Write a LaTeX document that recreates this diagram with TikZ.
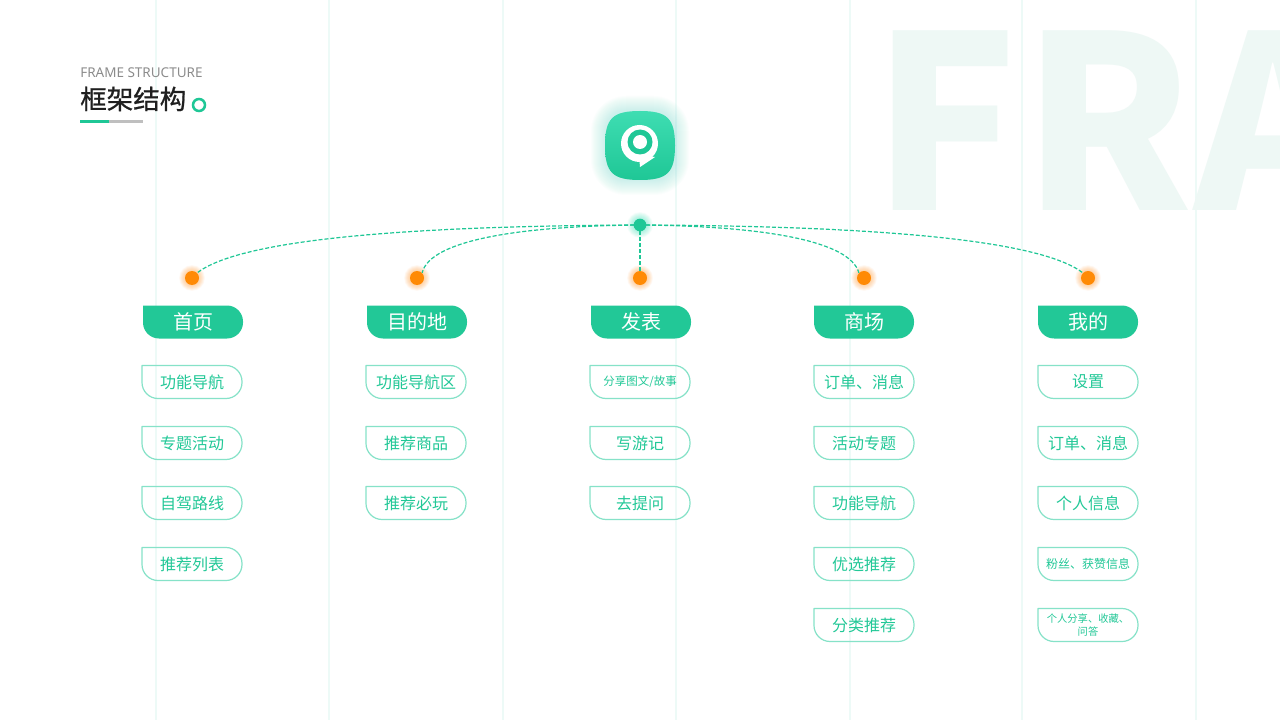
\documentclass[tikz,border=0pt]{standalone}
\usepackage{fontspec}
\setmainfont{Noto Sans CJK SC}
\newfontfamily\lat{Noto Sans}
\newfontfamily\titlef{Noto Sans CJK SC}[FakeBold=0.8]
\definecolor{gr}{HTML}{1FC796}
\definecolor{grt}{HTML}{22C897}
\definecolor{edge}{HTML}{86E2C8}
\definecolor{vline}{HTML}{EDFAF7}
\definecolor{bigc}{HTML}{EEF8F5}
\definecolor{org}{HTML}{FF8A05}
\definecolor{icontop}{HTML}{3EDDB2}
\definecolor{halo}{HTML}{30E0B8}
\newcommand{\setpx}[1]{\pgfmathsetmacro\fsz{#1*0.75}\pgfmathsetmacro\fsl{#1*0.95}\fontsize{\fsz pt}{\fsl pt}\selectfont}
\tikzset{
  px/.style={font=\setpx{#1}},
  vl/.style={draw=vline,line width=1.5pt},
  lk/.style={draw=gr,line width=0.9pt,dash pattern=on 3pt off 1.5pt},
  item/.style={text=grt,align=center,inner sep=0pt},
  head/.style={text=white,inner sep=0pt},
  dotc/.style={circle,fill=org,inner sep=0pt,minimum size=10.5pt},
  hubc/.style={circle,fill=gr,inner sep=0pt,minimum size=9.5pt},
}
\newcommand{\pillpath}{(-50,-16.5) -- (34,-16.5) .. controls (42.8,-16.5) and (50,-9.3) .. (50,-0.5) -- (50,0.5) .. controls (50,9.3) and (42.8,16.5) .. (34,16.5) -- (-34,16.5) .. controls (-42.8,16.5) and (-50,9.3) .. (-50,0.5) -- cycle}
\newcommand{\itembox}[5]{% name x y size text
  \begin{scope}[shift={(#2,#3)}]\draw[edge,line width=0.9pt,line join=round] \pillpath;\end{scope}
  \node[item,px=#4] (#1) at (#2,#3) {#5};}
\newcommand{\headbox}[4]{% name x y text
  \begin{scope}[shift={(#2,#3)}]\fill[grt] \pillpath;\end{scope}
  \node[head,px=20] (#1) at (#2,#3) {#4};}
\newcommand{\glow}[3]{% x y colour
  \foreach \r in {13,12.5,...,6} {\fill[#3,opacity=0.03] (#1,#2) circle[radius=\r];}}
\begin{document}
\begin{tikzpicture}[x=0.75pt,y=-0.75pt]
\useasboundingbox (0,0) rectangle (1280,720);
\fill[white] (0,0) rectangle (1280,720);
% vertical guides
\foreach \x in {156,329,503,676,850,1022,1196} \draw[vl] (\x,0) -- (\x,720);
% background word
\begin{scope}
\clip (0,0) rectangle (1280,720);
\node[anchor=base west,inner sep=0pt,text=bigc,font=\fontsize{181pt}{181pt}\selectfont\bfseries] (bigword) at (872,211) {F\kern3.5pt R\kern1pt A};
\end{scope}
% title
\node[anchor=base west,inner sep=0pt,text=black!45,px=13.5] (entitle) at (80,78) {\lat FRAME STRUCTURE};
\node[anchor=base west,inner sep=0pt,text=black!88,px=26.5] (title) at (80,109) {\titlef 框架结构};
\node[circle,draw=gr,line width=1.9pt,inner sep=0pt,minimum size=9pt] (ring) at (199,105) {};
\fill[gr] (80,120.5) rectangle (109,123.5);
\fill[black!25] (109,120.5) rectangle (143,123.5);
% app icon
\foreach \g in {15,14,...,1} \fill[halo,opacity=0.016,rounded corners={(20+\g)*0.75pt}] (606-\g,111-\g) rectangle (674+\g,180+\g);
\shade[top color=icontop,bottom color=gr] (640,111) .. controls (667,111) and (675,118) .. (675,145.5) .. controls (675,173) and (667,180) .. (640,180) .. controls (613,180) and (605,173) .. (605,145.5) .. controls (605,118) and (613,111) .. (640,111) -- cycle;
\fill[white] (639.5,143.5) circle[radius=18.5];
\fill[white] (639,155) -- (640,167) -- (655,157) -- cycle;
\fill[gr] (640,142) circle[radius=12.5];
\fill[white] (640,142) circle[radius=7];
% hub and dots
\glow{640}{225}{halo}
\glow{192}{278}{org}\glow{417}{278}{org}\glow{640}{278}{org}\glow{864}{278}{org}\glow{1088}{278}{org}
\node[hubc] (hub) at (640,225) {};
\node[dotc] (d1) at (192,278) {};
\node[dotc] (d2) at (417,278) {};
\node[dotc] (d3) at (640,278) {};
\node[dotc] (d4) at (864,278) {};
\node[dotc] (d5) at (1088,278) {};
\draw[lk] (hub.center) .. controls (400,226) and (240,240) .. (d1.north east);
\draw[lk] (hub.center) .. controls (520,226) and (430,240) .. (d2.north east);
\draw[lk] (hub.center) -- (d3);
\draw[lk] (hub.center) .. controls (760,226) and (850,240) .. (d4.north west);
\draw[lk] (hub.center) .. controls (880,226) and (1040,240) .. (d5.north west);
% headers
\headbox{h1}{193}{322}{首页}
\headbox{h2}{417}{322}{目的地}
\headbox{h3}{641}{322}{发表}
\headbox{h4}{864}{322}{商场}
\headbox{h5}{1088}{322}{我的}
% column 1
\itembox{a1}{192}{382}{16}{功能导航}
\itembox{a2}{192}{443}{16}{专题活动}
\itembox{a3}{192}{503}{16}{自驾路线}
\itembox{a4}{192}{564}{16}{推荐列表}
% column 2
\itembox{b1}{416}{382}{16}{功能导航区}
\itembox{b2}{416}{443}{16}{推荐商品}
\itembox{b3}{416}{503}{16}{推荐必玩}
% column 3
\itembox{c1}{640}{382}{11.5}{分享图文/故事}
\itembox{c2}{640}{443}{16}{写游记}
\itembox{c3}{640}{503}{16}{去提问}
% column 4
\itembox{e1}{864}{382}{16}{订单、消息}
\itembox{e2}{864}{443}{16}{活动专题}
\itembox{e3}{864}{503}{16}{功能导航}
\itembox{e4}{864}{564}{16}{优选推荐}
\itembox{e5}{864}{625}{16}{分类推荐}
% column 5
\itembox{f1}{1088}{382}{16}{设置}
\itembox{f2}{1088}{443}{16}{订单、消息}
\itembox{f3}{1088}{503}{16}{个人信息}
\itembox{f4}{1088}{564}{12}{粉丝、获赞信息}
\itembox{f5}{1088}{625}{10.3}{个人分享、收藏、\\问答}
\end{tikzpicture}
\end{document}
